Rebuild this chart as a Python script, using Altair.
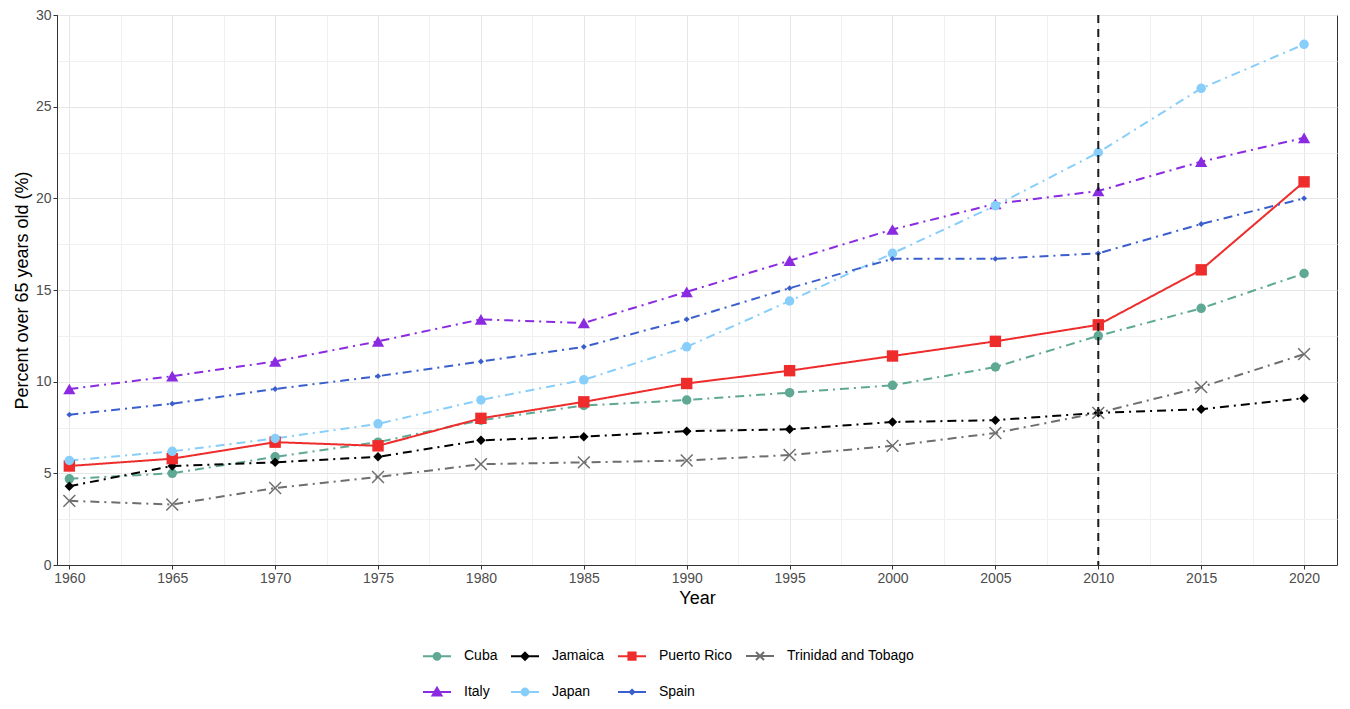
import altair as alt
import pandas as pd

years = [1960, 1965, 1970, 1975, 1980, 1985, 1990, 1995, 2000, 2005, 2010, 2015, 2020]
countries = ["Cuba", "Jamaica", "Puerto Rico", "Trinidad and Tobago", "Italy", "Japan", "Spain"]

cuba = [4.7, 5.0, 5.9, 6.7, 7.9, 8.7, 9.0, 9.4, 9.8, 10.8, 12.5, 14.0, 15.9]
jamaica = [4.3, 5.4, 5.6, 5.9, 6.8, 7.0, 7.3, 7.4, 7.8, 7.9, 8.3, 8.5, 9.1]
puerto_rico = [5.4, 5.8, 6.7, 6.5, 8.0, 8.9, 9.9, 10.6, 11.4, 12.2, 13.1, 16.1, 20.9]
trinidad = [3.5, 3.3, 4.2, 4.8, 5.5, 5.6, 5.7, 6.0, 6.5, 7.2, 8.3, 9.7, 11.5]
italy = [9.6, 10.3, 11.1, 12.2, 13.4, 13.2, 14.9, 16.6, 18.3, 19.7, 20.4, 22.0, 23.3]
japan = [5.7, 6.2, 6.9, 7.7, 9.0, 10.1, 11.9, 14.4, 17.0, 19.6, 22.5, 26.0, 28.4]
spain = [8.2, 8.8, 9.6, 10.3, 11.1, 11.9, 13.4, 15.1, 16.7, 16.7, 17.0, 18.6, 20.0]

series = [cuba, jamaica, puerto_rico, trinidad, italy, japan, spain]
colors = ["#5FA894", "#000000", "#EE2C2C", "#6E6E6E", "#8A2BE2", "#87CEFA", "#3A5FCD"]
line_styles = ["dotdash", "dotdash", "solid", "dotdash", "dotdash", "dotdash", "dotdash"]
style_names = ["dotdash", "solid"]
style_dashes = [[9, 5, 2, 5], [1, 0]]
shapes = ["circle", "diamond", "square", "M-1,-1L1,1M-1,1L1,-1", "triangle-up", "circle", "diamond"]
sizes = [90, 90, 130, 140, 150, 90, 35]
legend_paths = [
    "M-1.4,0H1.4M0.34,0A0.34,0.34,0,1,1,-0.34,0A0.34,0.34,0,1,1,0.34,0Z",
    "M-1.4,0H1.4M0,-0.36L0.36,0L0,0.36L-0.36,0Z",
    "M-1.4,0H1.4M-0.36,-0.36H0.36V0.36H-0.36Z",
    "M-1.4,0H1.4M-0.4,-0.4L0.4,0.4M-0.4,0.4L0.4,-0.4",
    "M-1.4,0H1.4M0,-0.42L0.45,0.36L-0.45,0.36Z",
    "M-1.4,0H1.4M0.34,0A0.34,0.34,0,1,1,-0.34,0A0.34,0.34,0,1,1,0.34,0Z",
    "M-1.4,0H1.4M0,-0.22L0.22,0L0,0.22L-0.22,0Z",
]
vline_year = [2010]
x_values = [1960 + 2.5 * i for i in range(25)]
y_values = [2.5 * i for i in range(13)]

rows = []
for c, vals, st in zip(countries, series, line_styles):
    for yr, v in zip(years, vals):
        rows.append({"year": yr, "pct": v, "country": c, "style": st})
df = pd.DataFrame(rows)

font = "Liberation Sans"
major = "datum.value % 5 == 0"

x_enc = alt.X(
    "year:Q",
    scale=alt.Scale(domain=[1959.4, 2021.6], nice=False, zero=False),
    axis=alt.Axis(
        values=x_values, title="Year", format="d",
        labelExpr=f"{major} ? datum.label : ''",
        labelOverlap=False, labelFlush=False,
        tickColor={"condition": {"test": major, "value": "#333333"}, "value": "transparent"},
        gridColor={"condition": {"test": major, "value": "#E6E6E6"}, "value": "#F0F0F0"},
    ),
)
y_enc = alt.Y(
    "pct:Q",
    scale=alt.Scale(domain=[0, 30], nice=False),
    axis=alt.Axis(
        values=y_values, title="Percent over 65 years old (%)",
        labelExpr=f"{major} ? datum.label : ''",
        labelOverlap=False, labelFlush=False,
        tickColor={"condition": {"test": major, "value": "#333333"}, "value": "transparent"},
        gridColor={"condition": {"test": major, "value": "#E6E6E6"}, "value": "#F0F0F0"},
    ),
)
color_scale = alt.Scale(domain=countries, range=colors)

base = alt.Chart(df)

leg = alt.Legend(
    title=None, orient="none", legendX=369, legendY=630, direction="horizontal", columns=4,
    symbolSize=400, symbolStrokeWidth=2, labelFontSize=14, labelColor="#000000",
    labelFont=font, labelOffset=16, columnPadding=9, rowPadding=17,
)
legend_layer = base.transform_filter("false").mark_point(filled=True, opacity=1).encode(
    x=x_enc, y=y_enc,
    color=alt.Color("country:N", scale=color_scale, legend=leg),
    shape=alt.Shape("country:N", scale=alt.Scale(domain=countries, range=legend_paths), legend=leg),
    stroke=alt.Stroke("country:N", scale=alt.Scale(domain=countries, range=colors), legend=leg),
)

lines = base.mark_line(strokeWidth=2).encode(
    x=x_enc, y=y_enc,
    color=alt.Color("country:N", scale=color_scale, legend=None),
    strokeDash=alt.StrokeDash("style:N", scale=alt.Scale(domain=style_names, range=style_dashes), legend=None),
    detail="country:N",
)

point_layers = []
for c, shp, sz in zip(countries, shapes, sizes):
    is_cross = shp.startswith("M")
    pl = base.transform_filter(alt.datum.country == c).mark_point(
        shape=shp, size=sz, filled=not is_cross, opacity=1,
        strokeWidth=1.5 if is_cross else 0.5,
    ).encode(
        x=x_enc, y=y_enc,
        color=alt.Color("country:N", scale=color_scale, legend=None),
    )
    point_layers.append(pl)

vdf = pd.DataFrame({"year": vline_year})
vline = alt.Chart(vdf).mark_rule(color="#1a1a1a", strokeDash=[8, 6], strokeWidth=2).encode(x="year:Q")

chart = alt.layer(legend_layer, lines, *point_layers, vline).properties(
    width=1280, height=550,
    padding={"left": 5, "top": 0, "right": 5, "bottom": 0},
).configure(font=font).configure_axis(
    labelFontSize=14, labelColor="#4D4D4D", titleFontSize=18, titleColor="#000000",
    titleFontWeight="normal", domainColor="#333333", tickSize=4, labelPadding=2,
).configure_view(stroke="#333333", strokeWidth=1)

chart.save("out.html", embed_options={"renderer": "svg", "actions": False})
